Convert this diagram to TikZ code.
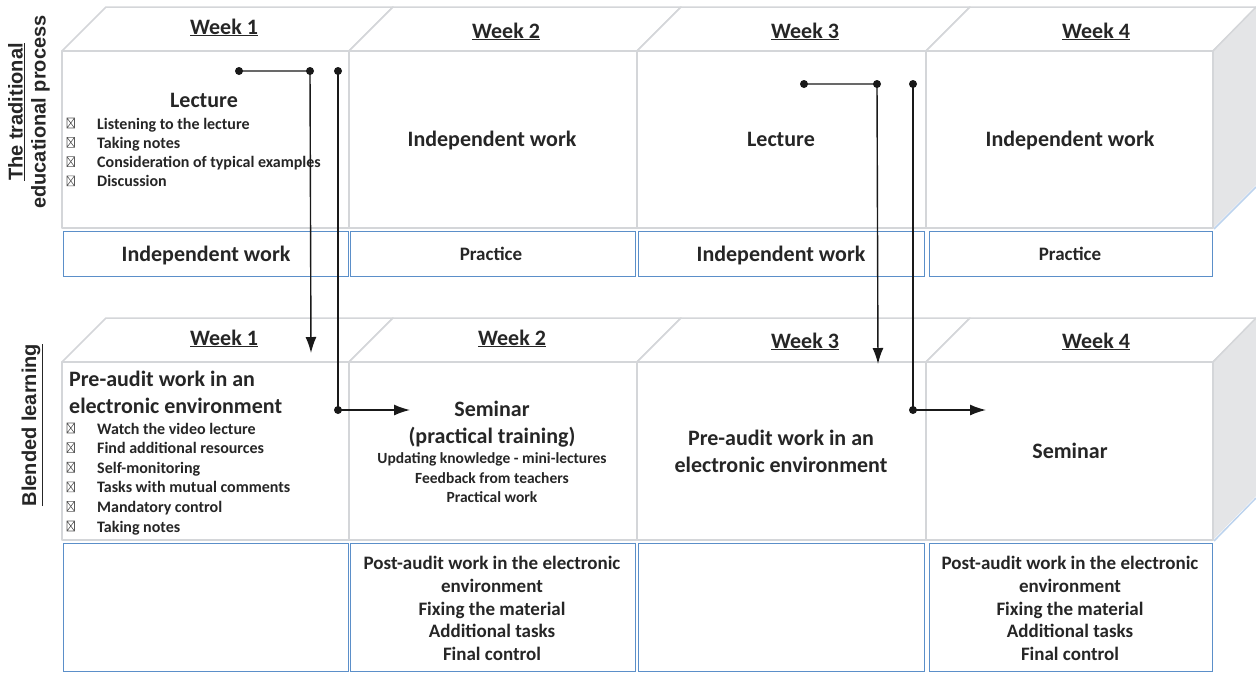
\documentclass[tikz,border=0pt]{standalone}
\usepackage{fontspec}
\setmainfont{Carlito}
\newfontfamily\arialf{Liberation Sans}
\usetikzlibrary{arrows.meta}
\definecolor{txt}{HTML}{262626}
\definecolor{edge}{HTML}{D4D6D9}
\definecolor{sidegray}{HTML}{E4E5E7}
\definecolor{bluebd}{HTML}{5B8FC9}
\definecolor{glow}{HTML}{BCD3EE}
\newcommand{\fs}[2]{\fontsize{#1}{#2}\selectfont}
\tikzset{
  face/.style={draw=edge, line width=1.5pt, fill=white, line join=round},
  bluebox/.style={draw=bluebd, line width=1pt, fill=white},
  week/.style={anchor=base, inner sep=0pt, text=txt, font=\bfseries\fs{22}{26}},
  head/.style={anchor=base, inner sep=0pt, text=txt, font=\bfseries\fs{22}{27}},
  headl/.style={anchor=base west, inner sep=0pt, text=txt, font=\bfseries\fs{22}{27}},
  small/.style={anchor=base, inner sep=0pt, text=txt, font=\bfseries\fs{15.5}{19}},
  item/.style={anchor=base west, inner sep=0pt, text=txt, font=\bfseries\fs{16}{19}},
  bxmark/.style={draw=black!65, line width=0.6pt},
  mid/.style={anchor=base, inner sep=0pt, text=txt, font=\bfseries\fs{19}{23}},
  side/.style={rotate=90, align=center, inner sep=0pt, text=txt, font=\arialf\bfseries\fs{20}{23}},
  conn/.style={line width=1.4pt, draw=black!90, -{Latex[length=16pt,width=11pt]}},
  dot/.style={fill=black!90}
}
\begin{document}
\begin{tikzpicture}[x=1pt,y=-1pt]
\useasboundingbox[fill=white] (0,0) rectangle (1256,673);

% ---------- top row cubes ----------
\foreach \l/\r in {62/349, 349/637, 637/926, 926/1213} {
  \draw[face] (\l,51) -- (\r,51) -- (\r+44,7) -- (\l+44,7) -- cycle;
}
\fill[sidegray] (1213,51) -- (1256,7) -- (1256,185) -- (1213,228) -- cycle;
\draw[glow, line width=1.5pt] (1214,229) -- (1256,187);
\draw[edge, line width=1.5pt] (1213,51) -- (1256,7);
\foreach \l/\r in {62/349, 349/637, 637/926, 926/1213} {
  \draw[face] (\l,51) rectangle (\r,228);
}
% ---------- bottom row cubes ----------
\foreach \l/\r in {62/349, 349/637, 637/926, 926/1213} {
  \draw[face] (\l,362) -- (\r,362) -- (\r+44,318) -- (\l+44,318) -- cycle;
}
\fill[sidegray] (1213,362) -- (1256,318) -- (1256,496) -- (1213,540) -- cycle;
\draw[glow, line width=1.5pt] (1214,541) -- (1256,498);
\draw[edge, line width=1.5pt] (1213,362) -- (1256,318);
\foreach \l/\r in {62/349, 349/637, 637/926, 926/1213} {
  \draw[face] (\l,362) rectangle (\r,540);
}

% ---------- blue boxes ----------
\foreach \l/\r in {63/348, 350/635, 638/924, 929/1212} {
  \draw[bluebox] (\l,231) rectangle (\r,276);
  \draw[bluebox] (\l,543) rectangle (\r,671.5);
}

% ---------- side labels ----------
\node[side] (labA) at (29,112) {\underline{The traditional}\\educational process};
\node[side] (labB) at (32,425) {\underline{Blended learning}};

% ---------- week labels ----------
\node[week] (tw1) at (224,34) {\underline{Week 1}};
\node[week] (tw2) at (506,38) {\underline{Week 2}};
\node[week] (tw3) at (805,38) {\underline{Week 3}};
\node[week] (tw4) at (1096,38) {\underline{Week 4}};
\node[week] (bw1) at (224,345) {\underline{Week 1}};
\node[week] (bw2) at (512,345) {\underline{Week 2}};
\node[week] (bw3) at (805,348) {\underline{Week 3}};
\node[week] (bw4) at (1096,348) {\underline{Week 4}};

% ---------- top row contents ----------
\node[head] (lec1) at (204,107) {Lecture};
\foreach \t [count=\i from 0] in {Listening to the lecture, Taking notes, Consideration of typical examples, Discussion} {
  \pgfmathsetmacro{\yb}{129+19.3*\i}
  \draw[bxmark] (67,\yb-11) rectangle (74.5,\yb-1) (67,\yb-11) -- (74.5,\yb-1) (67,\yb-1) -- (74.5,\yb-11);
  \node[item] (tl\i) at (97,\yb) {\t};
}
\node[head] (ind2) at (492,146) {Independent work};
\node[head] (lec3) at (781,146) {Lecture};
\node[head] (ind4) at (1070,146) {Independent work};
\node[head] (tb1) at (206,261) {Independent work};
\node[mid] (tb2) at (491,260) {Practice};
\node[head] (tb3) at (781,261) {Independent work};
\node[mid] (tb4) at (1070,260) {Practice};

% ---------- bottom row contents ----------
\node[headl] (pre1a) at (69,386) {Pre-audit work in an};
\node[headl] (pre1b) at (69,413) {electronic environment};
\foreach \t [count=\i from 0] in {Watch the video lecture, Find additional resources, Self-monitoring, Tasks with mutual comments, Mandatory control, Taking notes} {
  \pgfmathsetmacro{\yb}{434+19.6*\i}
  \draw[bxmark] (67,\yb-11) rectangle (74.5,\yb-1) (67,\yb-11) -- (74.5,\yb-1) (67,\yb-1) -- (74.5,\yb-11);
  \node[item] (bl\i) at (97,\yb) {\t};
}
\node[head] (sem2a) at (492,416) {Seminar};
\node[head] (sem2b) at (492,443) {(practical training)};
\node[small] (sem2c) at (492,463) {Updating knowledge - mini-lectures};
\node[small] (sem2d) at (492,483) {Feedback from teachers};
\node[small] (sem2e) at (492,502) {Practical work};
\node[head] (pre3a) at (781,445) {Pre-audit work in an};
\node[head] (pre3b) at (781,472) {electronic environment};
\node[head] (sem4) at (1070,458) {Seminar};
\foreach \x/\n in {492/p, 1070/q} {
  \node[mid] (\n1) at (\x,569) {Post-audit work in the electronic};
  \node[mid] (\n2) at (\x,592) {environment};
  \node[mid] (\n3) at (\x,615) {Fixing the material};
  \node[mid] (\n4) at (\x,637.5) {Additional tasks};
  \node[mid] (\n5) at (\x,660) {Final control};
}

% ---------- connectors ----------
\coordinate (a1) at (239,71);
\coordinate (a2) at (310,71);
\coordinate (a3) at (311,353);
\coordinate (b1) at (338,71);
\coordinate (b2) at (338,410);
\coordinate (b3) at (410,410);
\coordinate (c1) at (804,84);
\coordinate (c2) at (877,84);
\coordinate (c3) at (878,364);
\coordinate (d1) at (913,84);
\coordinate (d2) at (913,410);
\coordinate (d3) at (986,410);
\draw[conn] (a1) -- (a2) -- (a3);
\draw[conn] (b1) -- (b2) -- (b3);
\draw[conn] (c1) -- (c2) -- (c3);
\draw[conn] (d1) -- (d2) -- (d3);
\foreach \p in {a1,a2,b1,b2,c1,c2,d1,d2} {
  \fill[dot] (\p) circle[radius=4pt];
}
\end{tikzpicture}
\end{document}
